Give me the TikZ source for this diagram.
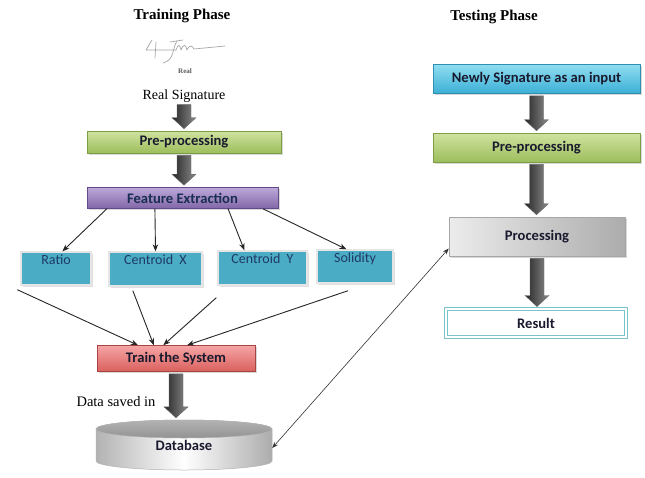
\documentclass[tikz,border=0pt]{standalone}
\usepackage{fontspec}
\setmainfont{Liberation Serif}
\newfontfamily\boxfont{Carlito}
\usetikzlibrary{arrows.meta,calc,shadows}
\definecolor{grnT}{HTML}{CFE3A0}
\definecolor{grnB}{HTML}{9DBE5C}
\definecolor{grnD}{HTML}{7E9E45}
\definecolor{purT}{HTML}{BCA8D8}
\definecolor{purB}{HTML}{8266A8}
\definecolor{purD}{HTML}{654A8A}
\definecolor{aqua}{HTML}{4BACC6}
\definecolor{cyT}{HTML}{8FDDF0}
\definecolor{cyB}{HTML}{3CAFD6}
\definecolor{cyD}{HTML}{2E8FB0}
\definecolor{redT}{HTML}{F5A5A5}
\definecolor{redB}{HTML}{D9605D}
\definecolor{redD}{HTML}{A84442}
\definecolor{navy}{HTML}{1F3A64}
\definecolor{resc}{HTML}{7CC4CC}
\definecolor{txt}{HTML}{1A1A2E}
\newcommand\blockarrow[2]{%
  \shadedraw[left color=black!85, right color=black!45, draw=black!60, line width=0.4pt]
    let \p1=(#1.south), \p2=(#2.north) in
    (\x1-7pt,\y1-2pt) -- (\x1+7pt,\y1-2pt) -- (\x1+7pt,\y2+13pt) -- (\x1+12pt,\y2+13pt)
    -- (\x1,\y2+2pt) -- (\x1-12pt,\y2+13pt) -- (\x1-7pt,\y2+13pt) -- cycle;}
\begin{document}
\begin{tikzpicture}[x=1pt,y=-1pt,
  title/.style={font=\bfseries\fontsize{15}{17}\selectfont, inner sep=0pt},
  plain/.style={font=\fontsize{14}{16}\selectfont, inner sep=0pt},
  box/.style={rectangle, inner sep=0pt, line width=0.6pt,
    font=\boxfont\bfseries\fontsize{14.6}{16}\selectfont, text=txt,
    drop shadow={shadow xshift=1.5pt, shadow yshift=-1.5pt, opacity=0.3}},
  greenbox/.style={box, draw=grnD, top color=grnT, bottom color=grnB},
  fbox/.style={rectangle, draw=gray!20, line width=1.4pt, fill=aqua, inner sep=3pt,
    text height=9.5pt, font=\boxfont\fontsize{14}{15}\selectfont, text=navy,
    drop shadow={shadow xshift=1.5pt, shadow yshift=-1.5pt, opacity=0.25}},
  conn/.style={-{Stealth[length=7pt,width=5.5pt]}, line width=0.9pt, black!85},
  sig/.style={gray!70, line width=0.7pt, line cap=round, line join=round}]
\useasboundingbox (0,0) rectangle (645,477);
\fill[white] (0,0) rectangle (645,477);

% ---------- Training phase ----------
\node[title] (t1) at (182,16) {Training Phase};
% signature scribble
\draw[sig] (152,40) -- (146,50) -- (161,50) -- (176,50);
\draw[sig] (156,42) -- (155,58);
\draw[sig] (170,42) -- (183,40);
\draw[sig] (177,41) .. controls (172,48) and (175,60) .. (163,63);
\draw[sig] (176,50) .. controls (178,44) and (180,44) .. (181,50)
  .. controls (183,44) and (186,44) .. (187,50)
  .. controls (189,45) and (192,45) .. (194,49) -- (225,46);
\node[font=\bfseries\fontsize{7}{8}\selectfont, text=gray!70!black, inner sep=0pt] (realtxt) at (185,71) {Real};
\node[plain] (rs) at (184,96) {Real Signature};

\node[greenbox, minimum width=194pt, minimum height=22pt] (pp1) at (184,142) {Pre-processing};
\node[box, draw=purD, top color=purT, bottom color=purB, text=navy!80!black,
  minimum width=191pt, minimum height=21pt] (fe) at (182.5,198) {Feature Extraction};

\node[fbox, minimum width=70pt, text depth=17.5pt] (ratio) at (56,268.5) {Ratio};
\node[fbox, minimum width=93pt, text depth=18.5pt] (cx) at (155.5,269) {Centroid\ \ X};
\node[fbox, minimum width=89pt, text depth=18.5pt] (cy) at (262.5,268) {Centroid\ \ Y};
\node[fbox, minimum width=76pt, text depth=17.5pt] (sol) at (355,266.5) {Solidity};

\node[box, draw=redD, top color=redT, bottom color=redB,
  minimum width=158pt, minimum height=26pt] (train) at (176,358.5) {Train the System};

\node[plain, font=\fontsize{14.5}{16}\selectfont] (saved) at (116,402) {Data saved in};

% database cylinder
\node[minimum width=176pt, minimum height=50pt, inner sep=0pt] (db) at (184,445) {};
\shadedraw[left color=gray!60, right color=gray!65, middle color=white, draw=gray!60, line width=0.5pt]
  (96,429) -- (96,461) arc[start angle=180, end angle=360, x radius=88pt, y radius=9pt]
  -- (272,429) arc[start angle=0, end angle=180, x radius=88pt, y radius=9pt] -- cycle;
\shadedraw[top color=gray!60, bottom color=gray!85, draw=gray!60, line width=0.5pt]
  (184,429) ellipse[x radius=88pt, y radius=9pt];
\node[font=\boxfont\bfseries\fontsize{14.6}{16}\selectfont, text=txt, inner sep=0pt] (dbl) at (184,445) {Database};

% ---------- Testing phase ----------
\node[title] (t2) at (494,17) {Testing Phase};
\node[box, draw=cyD, top color=cyT, bottom color=cyB,
  minimum width=207pt, minimum height=29pt] (nw) at (536.5,79) {Newly Signature as an input};
\node[greenbox, minimum width=207pt, minimum height=29pt] (pp2) at (536.5,147.5) {Pre-processing};
\node[box, draw=gray!70, left color=gray!15, right color=gray!65,
  minimum width=176pt, minimum height=39pt] (proc) at (537,236.5) {Processing};
\node[box, draw=resc, double=white, double distance=2pt, line width=1pt, fill=white,
  minimum width=180pt, minimum height=28pt] (res) at (536,323) {Result};

% ---------- block arrows ----------
\blockarrow{rs}{pp1}
\blockarrow{pp1}{fe}
\blockarrow{train}{db}
\blockarrow{nw}{pp2}
\blockarrow{pp2}{proc}
\blockarrow{proc}{res}

% ---------- connectors ----------
\draw[conn] ($(fe.south west)!0.105!(fe.south east)$) -- ($(ratio.north west)!0.59!(ratio.north east)$);
\draw[conn] ($(fe.south west)!0.356!(fe.south east)$) -- (cx.north);
\draw[conn] ($(fe.south west)!0.738!(fe.south east)$) -- ($(cy.north west)!0.3!(cy.north east)$);
\draw[conn] ($(fe.south west)!0.92!(fe.south east)$) -- ($(sol.north west)!0.39!(sol.north east)$);

\draw[conn] ($(ratio.south west)+(-3,4)$) -- ($(train.north west)!0.26!(train.north east)$);
\draw[conn] ($(cx.south west)!0.26!(cx.south east)+(0,4)$) -- ($(train.north west)!0.36!(train.north east)$);
\draw[conn] ($(cy.south west)+(-1,12)$) -- ($(train.north west)!0.42!(train.north east)$);
\draw[conn] ($(sol.south west)!0.41!(sol.south east)+(0,7)$) -- ($(train.north west)!0.57!(train.north east)$);

\draw[{Stealth[length=6pt,width=4.5pt]}-{Stealth[length=6pt,width=4.5pt]}, line width=0.6pt, black!80]
  ([yshift=-3pt]db.east) -- ([yshift=-12pt]proc.west);
\end{tikzpicture}
\end{document}
